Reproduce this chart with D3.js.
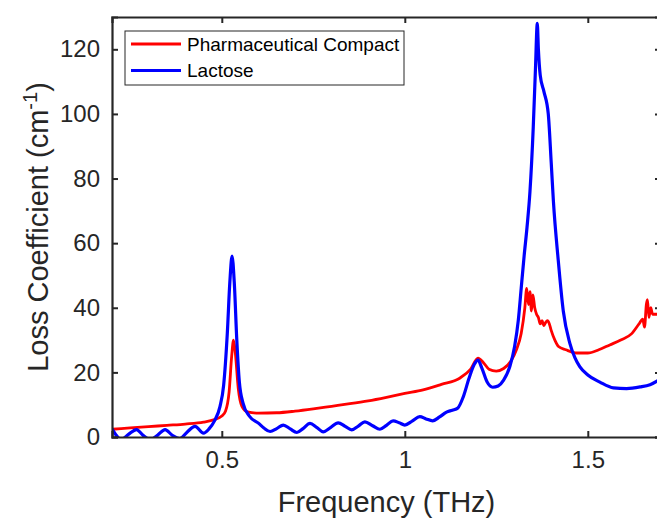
<!DOCTYPE html>
<html>
<head>
<meta charset="utf-8">
<script src="https://cdn.jsdelivr.net/npm/d3@7"></script>
<style>
  body { margin: 0; background: #fff; }
  svg { display: block; font-family: "Liberation Sans", Arial, sans-serif; }
</style>
</head>
<body>
<div id="chart-area"></div>
<script>
/*
*    loss coefficient spectra
*/

var compactFreq = [0.20, 0.25, 0.30, 0.35, 0.40, 0.45, 0.48, 0.50, 0.51, 0.52, 0.527, 0.532, 0.537, 0.545, 0.555, 0.57,
  0.60, 0.65, 0.70, 0.75, 0.80, 0.85, 0.90, 0.95, 1.00, 1.05, 1.10, 1.15, 1.18, 1.20, 1.215, 1.23, 1.25, 1.27, 1.29,
  1.305, 1.318, 1.328, 1.333, 1.338, 1.342, 1.346, 1.350, 1.355, 1.36, 1.365, 1.37, 1.375, 1.38, 1.385, 1.39, 1.395,
  1.40, 1.41, 1.42, 1.44, 1.47, 1.50, 1.53, 1.56, 1.59, 1.62, 1.64, 1.65, 1.655, 1.66, 1.663, 1.667, 1.672, 1.677, 1.70];
var compactLoss = [2.4, 2.8, 3.2, 3.6, 4.0, 4.6, 5.4, 6.5, 8, 14, 25, 30, 26, 15, 9.5, 7.8,
  7.4, 7.5, 8.0, 8.7, 9.5, 10.3, 11.2, 12.3, 13.5, 14.6, 16.3, 18.2, 21, 24.4, 23, 21, 20.4, 21.2, 23.5,
  27, 32, 40, 46, 41, 45, 39, 44, 40, 38, 37, 35, 36, 34.5, 35.5, 36, 35,
  33, 30, 28, 27, 26, 26, 27, 28.5, 30, 32, 35, 36.5, 34, 41, 42.5, 37, 40, 38, 38];

var lactoseFreq = [0.20, 0.21, 0.225, 0.245, 0.267, 0.285, 0.305, 0.325, 0.345, 0.365, 0.385, 0.405, 0.427, 0.45, 0.465,
  0.48, 0.495, 0.505, 0.515, 0.522, 0.528, 0.534, 0.541, 0.548, 0.558, 0.575, 0.60, 0.615, 0.632, 0.65, 0.668, 0.687,
  0.705, 0.722, 0.741, 0.76, 0.777, 0.797, 0.818, 0.837, 0.855, 0.873, 0.891, 0.912, 0.932, 0.95, 0.968, 0.985, 1.00,
  1.02, 1.041, 1.058, 1.076, 1.095, 1.114, 1.13, 1.145, 1.16, 1.175, 1.19, 1.20, 1.21, 1.225, 1.24, 1.255, 1.27, 1.287,
  1.30, 1.31, 1.318, 1.326, 1.334, 1.342, 1.351, 1.357, 1.362, 1.365, 1.37, 1.38, 1.392, 1.40, 1.406, 1.419, 1.433,
  1.451, 1.465, 1.478, 1.50, 1.533, 1.57, 1.606, 1.643, 1.67, 1.70];
var lactoseLoss = [2.5, 0.8, -0.8, 0.8, 2.3, 0.5, -0.8, 0.6, 2.3, 0.5, -0.5, 1.5, 3.3, 1.2, 2.5,
  5, 9.4, 16, 32, 48, 56, 48, 30, 17, 10.5, 6.5, 4.3, 2.8, 1.7, 2.6, 3.7, 2.5,
  1.4, 2.6, 4.2, 2.9, 1.6, 2.9, 4.4, 3.3, 2.2, 3.4, 4.7, 3.5, 2.4, 3.6, 5.0, 4.4, 3.7,
  4.9, 6.3, 5.6, 5.0, 6.2, 7.7, 8.3, 9.0, 12.5, 18, 22.5, 23.8, 21.5, 17, 15.4, 15.8, 17.6, 21.8,
  28, 36, 46, 56, 65, 76, 96, 114, 128, 120, 112, 107, 100, 85, 73, 55, 39,
  29, 24.5, 21.8, 19.2, 17, 15.2, 15, 15.5, 16.2, 18];

var xTicks = [0.5, 1, 1.5];
var yTicks = [0, 20, 40, 60, 80, 100, 120];
var seriesNames = ["Pharmaceutical Compact", "Lactose"];
var seriesColors = ["#ff0000", "#0000ff"];

var width = 657;
var height = 520;
var margin = {top: 17, right: -4, bottom: 83, left: 112};
var innerW = width - margin.left - margin.right;
var innerH = height - margin.top - margin.bottom;
var axisColor = "#262626";

var svg = d3.select("#chart-area").append("svg")
    .attr("width", width)
    .attr("height", height);

var g = svg.append("g")
    .attr("transform", "translate(" + margin.left + ", " + margin.top + ")");

var x = d3.scaleLinear()
    .domain([0.2, 1.7])
    .range([0, innerW]);

var y = d3.scaleLinear()
    .domain([0, 130])
    .range([innerH, 0]);

g.append("clipPath")
    .attr("id", "plot-clip")
  .append("rect")
    .attr("width", innerW)
    .attr("height", innerH);

var line = d3.line()
    .x((d) => { return x(d[0]); })
    .y((d) => { return y(d[1]); })
    .curve(d3.curveMonotoneX);

var series = [
  d3.zip(compactFreq, compactLoss),
  d3.zip(lactoseFreq, lactoseLoss)
];

g.append("g")
    .attr("clip-path", "url(#plot-clip)")
  .selectAll("path")
    .data(series)
  .enter().append("path")
    .attr("d", line)
    .attr("fill", "none")
    .attr("stroke", (d, i) => { return seriesColors[i]; })
    .attr("stroke-width", (d, i) => { return i === 0 ? 2.8 : 3.2; })
    .attr("stroke-linejoin", "round");

// box axes, ticks pointing in
var bottomAxis = d3.axisBottom(x).tickValues(xTicks).tickSize(-6).tickPadding(14)
    .tickFormat(d3.format("~g"));
var topAxis = d3.axisTop(x).tickValues(xTicks).tickSize(-6).tickFormat("");
var leftAxis = d3.axisLeft(y).tickValues(yTicks).tickSize(-6).tickPadding(12);
var rightAxis = d3.axisRight(y).tickValues(yTicks).tickSize(-6).tickFormat("");

g.append("g").attr("class", "bottom axis")
    .attr("transform", "translate(0, " + innerH + ")").call(bottomAxis);
g.append("g").attr("class", "top axis").call(topAxis);
g.append("g").attr("class", "left axis").call(leftAxis);
g.append("g").attr("class", "right axis")
    .attr("transform", "translate(" + innerW + ", 0)").call(rightAxis);

g.selectAll(".axis .domain")
    .attr("stroke", axisColor)
    .attr("stroke-width", 2.2);
g.selectAll(".axis .tick line")
    .attr("stroke", axisColor)
    .attr("stroke-width", 2);
g.selectAll(".axis text")
    .attr("fill", axisColor)
    .attr("font-family", "Liberation Sans, Arial, sans-serif")
    .attr("font-size", "24px");

g.append("text")
    .attr("class", "x axis-label")
    .attr("x", innerW / 2)
    .attr("y", innerH + 75)
    .attr("font-size", "29px")
    .attr("text-anchor", "middle")
    .style("fill", axisColor)
    .text("Frequency (THz)");

var yLabel = g.append("text")
    .attr("class", "y axis-label")
    .attr("x", -(innerH / 2))
    .attr("y", -64)
    .attr("font-size", "29px")
    .attr("text-anchor", "middle")
    .attr("transform", "rotate(-90)")
    .style("fill", axisColor);
yLabel.append("tspan").text("Loss Coefficient (cm");
yLabel.append("tspan").attr("dy", -11).attr("font-size", "20px").text("-1");
yLabel.append("tspan").attr("dy", 11).text(")");

// legend
var legend = g.append("g")
    .attr("transform", "translate(13, 14)");
legend.append("rect")
    .attr("width", 279)
    .attr("height", 54)
    .attr("fill", "#fff")
    .attr("stroke", axisColor)
    .attr("stroke-width", 1);
var items = legend.selectAll(".item")
    .data(seriesNames)
  .enter().append("g")
    .attr("class", "item")
    .attr("transform", (d, i) => { return "translate(0, " + (13 + i * 26.5) + ")"; });
items.append("line")
    .attr("x1", 6)
    .attr("x2", 56)
    .attr("stroke", (d, i) => { return seriesColors[i]; })
    .attr("stroke-width", 3);
items.append("text")
    .attr("x", 62)
    .attr("dy", "0.35em")
    .attr("font-size", "19px")
    .style("fill", "#000")
    .text((d) => { return d; });
</script>
</body>
</html>
